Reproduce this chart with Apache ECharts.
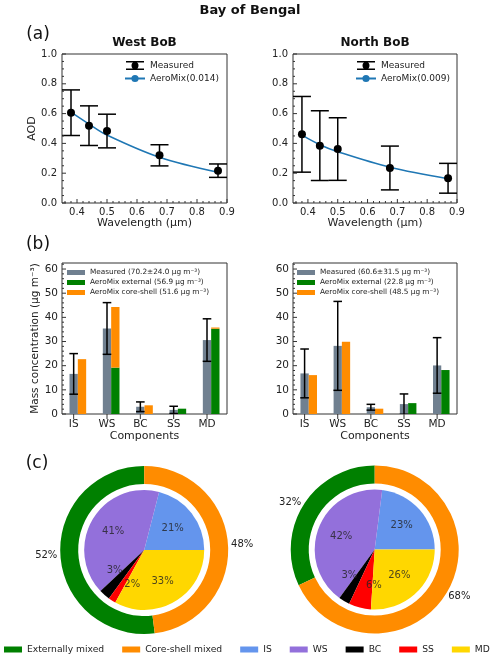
<!DOCTYPE html>
<html><head><meta charset="utf-8">
<script src="https://cdn.jsdelivr.net/npm/echarts@6/dist/echarts.min.js"></script>
<style>html,body{margin:0;padding:0;background:#fff}#c{width:500px;height:660px}</style>
</head><body><div id="c"></div>
<script>
// ---------- data ----------
const wavelengths = [0.38, 0.44, 0.5, 0.675, 0.87];
const westAOD = [0.606, 0.519, 0.483, 0.32, 0.217];
const westAODerr = [0.153, 0.133, 0.113, 0.071, 0.045];
const westModel = [0.61, 0.53, 0.456, 0.307, 0.206];
const northAOD = [0.461, 0.385, 0.362, 0.235, 0.166];
const northAODerr = [0.254, 0.234, 0.21, 0.147, 0.1];
const northModel = [0.455, 0.391, 0.344, 0.24, 0.163];
const wlTicks = [0.4, 0.5, 0.6, 0.7, 0.8, 0.9];
const wlMinorTicks = [0.36,0.38,0.42,0.44,0.46,0.48,0.52,0.54,0.56,0.58,0.62,0.64,0.66,0.68,0.72,0.74,0.76,0.78,0.82,0.84,0.86,0.88];
const aodTicks = [0, 0.2, 0.4, 0.6, 0.8, 1.0];
const aodMinorTicks = [0.05,0.1,0.15,0.25,0.3,0.35,0.45,0.5,0.55,0.65,0.7,0.75,0.85,0.9,0.95];

const components = ['IS', 'WS', 'BC', 'SS', 'MD'];
const componentTicks = [0, 1, 2, 3, 4];
const westMeasured = [16.6, 35.4, 3.0, 1.7, 30.6];
const westMeasuredErr = [8.4, 10.7, 2.0, 1.5, 8.8];
const westExternal = [0, 19.2, 0, 2.2, 35.3];
const westCoreShell = [22.7, 25.1, 3.6, 0, 0.5];
const northMeasured = [16.8, 28.2, 2.8, 4.1, 20.1];
const northMeasuredErr = [10.1, 18.4, 1.2, 4.2, 11.5];
const northExternal = [0, 0, 0, 4.5, 18.2];
const northCoreShell = [16.1, 29.9, 2.2, 0, 0];
const massTicks = [0, 10, 20, 30, 40, 50, 60];
const massMinorTicks = [2,4,6,8,12,14,16,18,22,24,26,28,32,34,36,38,42,44,46,48,52,54,56,58,62];

const westLegend = ['Measured (70.2±24.0 μg m⁻³)', 'AeroMix external (56.9 μg m⁻³)', 'AeroMix core-shell (51.6 μg m⁻³)'];
const northLegend = ['Measured (60.6±31.5 μg m⁻³)', 'AeroMix external (22.8 μg m⁻³)', 'AeroMix core-shell (48.5 μg m⁻³)'];

const mixNames = ['Externally mixed', 'Core-shell mixed'];
const westMix = [52, 48];
const northMix = [32, 68];
const westComp = [21, 41, 3, 2, 33];
const northComp = [23, 42, 3, 6, 26];

// ---------- styles ----------
const FONT = 'DejaVu Sans';
const TXT = '#222';
const TICK = '#333';
const mixColors = ['#008000', '#ff8c00'];
const compColors = ['#6495ed', '#9370db', '#000000', '#ff0000', '#ffd700'];
const measColor = '#708090';
const lineColor = '#1f77b4';
const BW = 0.25;                          // bar width in category units
const labelNudgeDeg = [0, 0, -14, 13, 0]; // pct-label angular nudge for tiny slices
const PIE_R = 60, PCT_DIST = 0.6;
const MAJOR_LEN = 4, MINOR_LEN = 2;

const chart = echarts.init(document.getElementById('c'), null, {renderer: 'canvas'});

const grids = [
  {left: 62, top: 54, width: 165, height: 149},
  {left: 293, top: 54, width: 164, height: 149},
  {left: 62, top: 263, width: 165, height: 151},
  {left: 293, top: 263, width: 164, height: 151}
].map(g => Object.assign({show: true, borderColor: '#333', borderWidth: 1, backgroundColor: 'transparent'}, g));

const lbl = {color: TXT, fontSize: 10, fontFamily: FONT};
const nameStyle = {color: TXT, fontSize: 11, fontFamily: FONT};
const noLine = {show: false, onZero: false};

function wlAxis(gi) {
  return {type: 'value', gridIndex: gi, min: 0.35, max: 0.9, position: 'bottom',
    axisLine: noLine, splitLine: {show: false}, axisTick: {show: false},
    axisLabel: Object.assign({customValues: wlTicks, margin: 4, formatter: v => v.toFixed(1)}, lbl),
    name: 'Wavelength (μm)', nameLocation: 'middle', nameGap: 14, nameTextStyle: nameStyle};
}
function compAxis(gi) {
  return {type: 'value', gridIndex: gi, min: -0.35, max: 4.6, position: 'bottom',
    axisLine: noLine, splitLine: {show: false}, axisTick: {show: false},
    axisLabel: Object.assign({customValues: componentTicks, margin: 5, formatter: v => components[Math.round(v)]}, lbl, {fontSize: 10.5}),
    name: 'Components', nameLocation: 'middle', nameGap: 17, nameTextStyle: nameStyle};
}
function aodAxis(gi, withName) {
  return {type: 'value', gridIndex: gi, min: 0, max: 1, position: 'left',
    axisLine: noLine, splitLine: {show: false}, axisTick: {show: false},
    axisLabel: Object.assign({customValues: aodTicks, margin: 5, formatter: v => v.toFixed(1)}, lbl),
    name: withName ? 'AOD' : '', nameLocation: 'middle', nameGap: 16, nameTextStyle: nameStyle};
}
function massAxis(gi, withName) {
  return {type: 'value', gridIndex: gi, min: 0, max: 62.5, position: 'left',
    axisLine: noLine, splitLine: {show: false}, axisTick: {show: false},
    axisLabel: Object.assign({customValues: massTicks, margin: 4}, lbl, {fontSize: 10.5}),
    name: withName ? 'Mass concentration (μg m⁻³)' : '', nameLocation: 'middle', nameGap: 10, nameTextStyle: Object.assign({}, nameStyle, {fontSize: 10.5})};
}

// tick marks drawn through the axes' own scales (matplotlib style: inside, major + minor)
function tickSeries(xi, yi, xMin, yMin, xMajor, xMinor, yMajor, yMinor, xOutward) {
  const data = [];
  xMajor.forEach(v => data.push([v, 0, MAJOR_LEN]));
  xMinor.forEach(v => data.push([v, 0, MINOR_LEN]));
  yMajor.forEach(v => data.push([v, 1, MAJOR_LEN]));
  yMinor.forEach(v => data.push([v, 1, MINOR_LEN]));
  return {type: 'custom', xAxisIndex: xi, yAxisIndex: yi, silent: true, z: 20, clip: false,
    data: data,
    renderItem: function (params, api) {
      const v = api.value(0), which = api.value(1), len = api.value(2);
      const st = {stroke: TICK, lineWidth: 1};
      if (which === 0) {
        const p = api.coord([v, yMin]);
        const d = xOutward ? len + 1 : -len;
        return {type: 'line', shape: {x1: p[0], y1: p[1], x2: p[0], y2: p[1] + d}, style: st};
      }
      const p = api.coord([xMin, v]);
      return {type: 'line', shape: {x1: p[0], y1: p[1], x2: p[0] + len, y2: p[1]}, style: st};
    }};
}

function errSeries(xi, yi, xs, vals, errs, cap) {
  return {type: 'custom', xAxisIndex: xi, yAxisIndex: yi, silent: true, z: 4, clip: true,
    data: xs.map((x, i) => [x, vals[i] - errs[i], vals[i] + errs[i]]),
    renderItem: function (params, api) {
      const x = api.value(0);
      const lo = api.coord([x, api.value(1)]);
      const hi = api.coord([x, api.value(2)]);
      const st = {stroke: '#000', lineWidth: 1.5};
      return {type: 'group', children: [
        {type: 'line', shape: {x1: lo[0], y1: lo[1], x2: hi[0], y2: hi[1]}, style: st},
        {type: 'line', shape: {x1: lo[0] - cap, y1: lo[1], x2: lo[0] + cap, y2: lo[1]}, style: st},
        {type: 'line', shape: {x1: hi[0] - cap, y1: hi[1], x2: hi[0] + cap, y2: hi[1]}, style: st}
      ]};
    }};
}
function barSeries(name, xi, yi, offset, bottoms, tops, color) {
  return {type: 'custom', name: name, xAxisIndex: xi, yAxisIndex: yi, z: 2, silent: true,
    itemStyle: {color: color},
    data: tops.map((t, i) => [i + offset, bottoms ? bottoms[i] : 0, bottoms ? bottoms[i] + t : t]),
    renderItem: function (params, api) {
      const x = api.value(0);
      const p0 = api.coord([x - BW / 2, api.value(2)]);
      const p1 = api.coord([x + BW / 2, api.value(1)]);
      return {type: 'rect', shape: {x: p0[0], y: p0[1], width: p1[0] - p0[0], height: p1[1] - p0[1]},
        style: {fill: color}};
    }};
}
function pairs(xs, ys) { return xs.map((x, i) => [x, ys[i]]); }

const errIcon = 'path://M0,0H18V1.4H0Z M8.3,0H9.7V9H8.3Z M0,7.6H18V9H0Z M12.5,4.5A3.5,3.5,0,1,1,5.5,4.5A3.5,3.5,0,1,1,12.5,4.5Z';

function aodSeries(gi, meas, err, model, modelName) {
  return [
    {type: 'line', name: modelName, xAxisIndex: gi, yAxisIndex: gi, data: pairs(wavelengths, model),
      smooth: 0.35, symbol: 'none', lineStyle: {color: lineColor, width: 1.5}, itemStyle: {color: lineColor}, z: 3, silent: true},
    errSeries(gi, gi, wavelengths, meas, err, 9),
    {type: 'scatter', name: 'Measured', xAxisIndex: gi, yAxisIndex: gi, data: pairs(wavelengths, meas),
      symbolSize: 8, itemStyle: {color: '#000', opacity: 1}, z: 5, silent: true},
    tickSeries(gi, gi, 0.35, 0, wlTicks, wlMinorTicks, aodTicks, aodMinorTicks, false)
  ];
}
function massSeries(xi, yi, meas, err, ext, cs, names) {
  return [
    barSeries(names[0], xi, yi, 0, null, meas, measColor),
    barSeries(names[1], xi, yi, BW, null, ext, mixColors[0]),
    barSeries(names[2], xi, yi, BW, ext, cs, mixColors[1]),
    errSeries(xi, yi, componentTicks, meas, err, 4.3),
    tickSeries(xi, yi, -0.35, 0, componentTicks, [], massTicks, massMinorTicks, true)
  ];
}
function pieSeries(cx, cy, mix, comp, polarIndex) {
  const compData = comp.map((v, i) => ({name: components[i], value: v, itemStyle: {color: compColors[i]}}));
  const total = comp.reduce((a, b) => a + b, 0);
  let cum = 0;
  const pctLabels = comp.map((v, i) => {
    const mid = (cum + v / 2) / total * 360 + labelNudgeDeg[i];
    cum += v;
    return [PIE_R * PCT_DIST, mid, v];
  });
  return [
    {type: 'pie', center: [cx, cy], radius: [0, PIE_R], startAngle: 0, clockwise: false, silent: true,
      avoidLabelOverlap: false, label: {show: false}, labelLine: {show: false}, data: compData,
      emphasis: {disabled: true}},
    {type: 'pie', center: [cx, cy], radius: [66, 84], startAngle: 90, clockwise: false, silent: true,
      avoidLabelOverlap: false, emphasis: {disabled: true},
      label: {show: true, position: 'outside', formatter: p => p.value + '%', color: TXT, fontSize: 10, fontFamily: FONT, distanceToLabelLine: 0},
      labelLine: {show: false, length: 3, length2: 0},
      data: mix.map((v, i) => ({name: mixNames[i], value: v, itemStyle: {color: mixColors[i]}}))},
    {type: 'scatter', coordinateSystem: 'polar', polarIndex: polarIndex, silent: true, z: 10,
      symbolSize: 1, itemStyle: {color: 'rgba(0,0,0,0)'},
      label: {show: true, position: 'inside', formatter: p => p.value[2] + '%', color: TXT, fontSize: 10, fontFamily: FONT},
      data: pctLabels}
  ];
}

function legendA(left, modelName) {
  return {left: left, top: 61, padding: 0, orient: 'vertical', itemWidth: 20, itemHeight: 9, itemGap: 4,
    selectedMode: false, textStyle: {color: TXT, fontSize: 9, fontFamily: FONT},
    data: [{name: 'Measured', icon: errIcon, itemStyle: {color: '#000'}}, {name: modelName}]};
}
function legendB(left, names) {
  return {left: left, top: 269, padding: 0, orient: 'vertical', itemWidth: 18, itemHeight: 5, itemGap: 3,
    selectedMode: false, textStyle: {color: TXT, fontSize: 7.3, fontFamily: FONT},
    data: names.map(n => ({name: n, icon: 'rect'}))};
}

const txt = (t, x, y, size, bold) => ({type: 'text', x: x, y: y, silent: true,
  style: {text: t, fill: '#111', font: (bold ? 'bold ' : '') + size + 'px "' + FONT + '"', align: 'center', verticalAlign: 'middle'}});

chart.setOption({
  animation: false,
  backgroundColor: '#fff',
  textStyle: {fontFamily: FONT},
  grid: grids,
  xAxis: [wlAxis(0), wlAxis(1), compAxis(2), compAxis(3)],
  yAxis: [aodAxis(0, true), aodAxis(1, false), massAxis(2, true), massAxis(3, false)],
  polar: [{center: [144.2, 550], radius: [0, PIE_R]}, {center: [374.7, 549.5], radius: [0, PIE_R]}],
  angleAxis: [
    {polarIndex: 0, type: 'value', min: 0, max: 360, startAngle: 0, clockwise: false, show: false},
    {polarIndex: 1, type: 'value', min: 0, max: 360, startAngle: 0, clockwise: false, show: false}
  ],
  radiusAxis: [
    {polarIndex: 0, type: 'value', min: 0, max: PIE_R, show: false},
    {polarIndex: 1, type: 'value', min: 0, max: PIE_R, show: false}
  ],
  legend: [
    legendA(124, 'AeroMix(0.014)'),
    legendA(355, 'AeroMix(0.009)'),
    legendB(67, westLegend),
    legendB(297, northLegend),
    {left: 4, top: 645, padding: 0, itemWidth: 18, itemHeight: 6, itemGap: 18, selectedMode: false,
      textStyle: {color: TXT, fontSize: 9.2, fontFamily: FONT},
      data: mixNames.concat(components).map(n => ({name: n, icon: 'rect'}))}
  ],
  graphic: [
    txt('Bay of Bengal', 250, 11, 13, true),
    txt('West BoB', 144.5, 43, 12, true),
    txt('North BoB', 375, 43, 12, true),
    txt('(a)', 38, 35, 17, false),
    txt('(b)', 38, 245, 17, false),
    txt('(c)', 37, 464, 17, false)
  ],
  series: [].concat(
    aodSeries(0, westAOD, westAODerr, westModel, 'AeroMix(0.014)'),
    aodSeries(1, northAOD, northAODerr, northModel, 'AeroMix(0.009)'),
    massSeries(2, 2, westMeasured, westMeasuredErr, westExternal, westCoreShell, westLegend),
    massSeries(3, 3, northMeasured, northMeasuredErr, northExternal, northCoreShell, northLegend),
    pieSeries(144.2, 550, westMix, westComp, 0),
    pieSeries(374.7, 549.5, northMix, northComp, 1)
  )
});
</script>
</body></html>
